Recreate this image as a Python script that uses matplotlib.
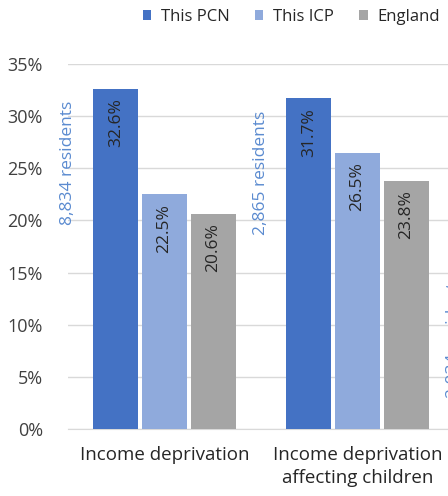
import numpy as np
import matplotlib.pyplot as plt

plt.rcParams["font.family"] = ["Open Sans", "DejaVu Sans"]

categories = ["Income deprivation", "Income deprivation\naffecting children",
              "Income deprivation\naffecting older people"]
series = ["This PCN", "This ICP", "England"]
pcn = [32.6, 31.7, 16.0]
icp = [22.5, 26.5, 15.0]
england = [20.6, 23.8, 14.2]
residents = ["8,834 residents", "2,865 residents", "2,034 residents"]
colors = ["#4472C4", "#8FAADC", "#A5A5A5"]

fig = plt.figure(figsize=(4.48, 4.96), dpi=100)
ax = fig.add_axes([68 / 448, (496 - 429) / 496, 579 / 448, 365 / 496])

x = np.arange(len(categories))
w = 0.232
for i, (vals, name) in enumerate(zip([pcn, icp, england], series)):
    pos = x + (i - 1) * (w + 0.02)
    bars = ax.bar(pos, vals, w, color=colors[i], label=name, zorder=3)
    for xp, v in zip(pos, vals):
        ax.text(xp, v - 0.9, f"{v:.1f}%", rotation=90, ha="center", va="top",
                fontsize=12.5, color="#262626", zorder=4)

# residents labels beside each PCN bar
for xi, v, r in zip(x, pcn, residents):
    ax.text(xi - 0.5, v - 7.1, r, rotation=90, ha="center", va="center",
            fontsize=12.5, color="#5B8BD0")

ax.set_xlim(-0.5, 2.5)
ax.set_ylim(0, 35)
ax.set_yticks(np.arange(0, 36, 5))
ax.set_yticklabels([f"{t}%" for t in range(0, 36, 5)], fontsize=13, color="#404040")
ax.set_xticks(x)
ax.set_xticklabels(categories, fontsize=13.5, color="#262626", linespacing=1.35)
ax.tick_params(length=0)
ax.tick_params(axis="x", pad=12)
ax.tick_params(axis="y", pad=18)
ax.grid(axis="y", color="#D9D9D9", linewidth=1, zorder=0)
for s in ["top", "right", "left"]:
    ax.spines[s].set_visible(False)
ax.spines["bottom"].set_color("#D9D9D9")

fig.legend(loc="upper left", bbox_to_anchor=(128 / 448, 1.012), ncol=3, frameon=False,
           fontsize=12, handlelength=0.5, handleheight=0.5, handletextpad=0.6,
           columnspacing=1.5, labelcolor="#262626")

fig.savefig("out.png", dpi=100)
